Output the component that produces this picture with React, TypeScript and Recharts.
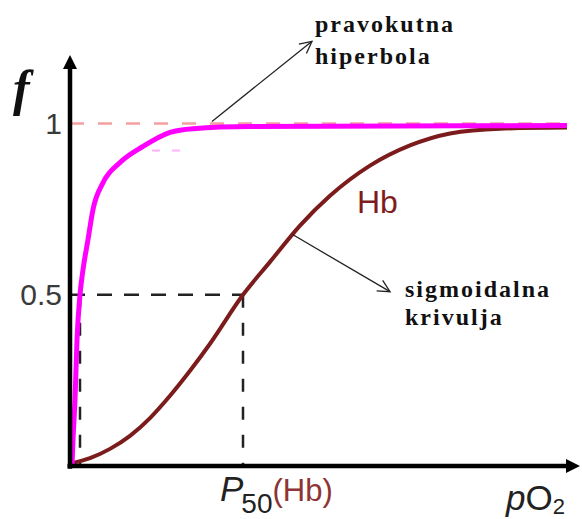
import React from "react";
import { LineChart, Line, XAxis, YAxis, ReferenceLine, ReferenceDot } from "recharts";

// pravokutna hiperbola (magenta curve)
const hyperX = [0.4, 0.6, 1, 1.4, 2, 2.6, 3.6, 4.6, 6.6, 10, 14.6, 20, 24.6, 36, 99.4];
const hyperF = [0, 0.076, 0.193, 0.368, 0.5, 0.573, 0.661, 0.749, 0.827, 0.886, 0.933, 0.974, 0.985, 0.991, 0.994];

// sigmoidalna krivulja (Hb)
const hbX = [0.6, 4, 8, 12, 16, 20, 24, 28, 34.6, 40, 46, 52, 60, 68, 76, 86, 99.4];
const hbF = [0.009, 0.023, 0.05, 0.088, 0.14, 0.205, 0.278, 0.357, 0.5, 0.596, 0.702, 0.789, 0.877, 0.936, 0.971, 0.985, 0.988];

const yTicks = [0.5, 1];
const p50Hb = 34.6;
const p50Hyper = 2;

const hyperData = hyperX.map((x, i) => ({ x, f: hyperF[i] }));
const hbData = hbX.map((x, i) => ({ x, f: hbF[i] }));

const SANS = "'Liberation Sans', Arial, sans-serif";
const SERIF = "'Liberation Serif', 'Times New Roman', serif";

// line with an arrow head at (x2, y2); filled for the axes, open for the notes
const arrowShape =
  (stroke: string, width: number, head: number, open = false) =>
  (p: any) => {
    const { x1, y1, x2, y2 } = p;
    const a = Math.atan2(y2 - y1, x2 - x1);
    const cos = Math.cos(a);
    const sin = Math.sin(a);
    const half = head * 0.5;
    const bx = x2 - head * cos;
    const by = y2 - head * sin;
    const lx = bx - half * sin;
    const ly = by + half * cos;
    const rx = bx + half * sin;
    const ry = by - half * cos;
    if (open) {
      return (
        <g>
          <line x1={x1} y1={y1} x2={x2} y2={y2} stroke={stroke} strokeWidth={width} />
          <polyline
            points={`${lx},${ly} ${x2},${y2} ${rx},${ry}`}
            fill="none"
            stroke={stroke}
            strokeWidth={width}
          />
        </g>
      );
    }
    return (
      <g>
        <line x1={x1} y1={y1} x2={bx + cos} y2={by + sin} stroke={stroke} strokeWidth={width} />
        <polygon points={`${lx},${ly} ${x2},${y2} ${rx},${ry}`} fill={stroke} />
      </g>
    );
  };

const textShape = (content: React.ReactNode, props: React.SVGProps<SVGTextElement>) => (p: any) =>
  (
    <text x={p.cx} y={p.cy} {...props}>
      {content}
    </text>
  );

const P50Tick = (p: any) => (
  <text x={p.x - 23} y={p.y + 27} fontFamily={SANS} fill="#222">
    <tspan fontStyle="italic" fontSize={35}>
      P
    </tspan>
    <tspan fontSize={28} dy={12} dx={-2}>
      50
    </tspan>
    <tspan fontSize={31} dy={-12} fill="#8e3434">
      (Hb)
    </tspan>
  </text>
);

const noteStyle = {
  fontFamily: SERIF,
  fontWeight: "bold",
  fontSize: 24,
  letterSpacing: 2,
  fill: "#111",
};

export default function App() {
  return (
    <div style={{ position: "absolute", left: 0, top: 0, width: 582, height: 519, background: "#fff" }}>
      <LineChart width={582} height={519} margin={{ top: 55, right: 2, bottom: 0, left: 0 }}>
        <XAxis
          type="number"
          dataKey="x"
          domain={[0, 102]}
          ticks={[p50Hb]}
          tick={<P50Tick />}
          axisLine={false}
          tickLine={false}
          height={53}
          allowDataOverflow
        />
        <YAxis
          type="number"
          domain={[0, 1.2]}
          ticks={yTicks}
          tickFormatter={(v: number) => String(v)}
          tick={{ fill: "#3a3a3a", fontSize: 30, fontFamily: SANS }}
          axisLine={false}
          tickLine={false}
          width={70}
          allowDataOverflow
        />

        {/* asymptote f = 1 */}
        <ReferenceLine
          segment={[{ x: 0, y: 1 }, { x: 99.4, y: 1 }]}
          stroke="#f5a0a0"
          strokeWidth={2.5}
          strokeDasharray="14 14"
          ifOverflow="visible"
        />
        {/* faint magenta trace under the plateau */}
        <ReferenceLine
          segment={[{ x: 16.4, y: 0.921 }, { x: 23, y: 0.921 }]}
          stroke="#ffb0ff"
          strokeWidth={2}
          strokeDasharray="8 12"
          ifOverflow="visible"
        />

        {/* P50 guide lines */}
        <ReferenceLine
          segment={[{ x: 0, y: 0.5 }, { x: p50Hb, y: 0.5 }]}
          stroke="#222"
          strokeWidth={2.5}
          strokeDasharray="15 12"
          ifOverflow="visible"
        />
        <ReferenceLine
          segment={[{ x: p50Hb, y: 0.5 }, { x: p50Hb, y: 0 }]}
          stroke="#222"
          strokeWidth={2.5}
          strokeDasharray="13 15"
          ifOverflow="visible"
        />
        <ReferenceLine
          segment={[{ x: p50Hyper, y: 0.5 }, { x: p50Hyper, y: 0 }]}
          stroke="#222"
          strokeWidth={2.5}
          strokeDasharray="13 15"
          ifOverflow="visible"
        />

        <Line
          data={hbData}
          dataKey="f"
          type="monotone"
          stroke="#7b1b1b"
          strokeWidth={4}
          dot={false}
          activeDot={false}
          isAnimationActive={false}
        />
        <Line
          data={hyperData}
          dataKey="f"
          type="monotone"
          stroke="#ff00ff"
          strokeWidth={5}
          dot={false}
          activeDot={false}
          isAnimationActive={false}
        />

        {/* axes with arrow heads */}
        <ReferenceLine
          segment={[{ x: 0, y: -0.008 }, { x: 0, y: 1.2 }]}
          ifOverflow="visible"
          shape={arrowShape("#000", 4.5, 14)}
        />
        <ReferenceLine
          segment={[{ x: -0.5, y: 0 }, { x: 102, y: 0 }]}
          ifOverflow="visible"
          shape={arrowShape("#000", 4.5, 14)}
        />

        {/* annotation arrows */}
        <ReferenceLine
          segment={[{ x: 28.4, y: 1.006 }, { x: 48.4, y: 1.24 }]}
          ifOverflow="visible"
          shape={arrowShape("#222", 1.3, 12, true)}
        />
        <ReferenceLine
          segment={[{ x: 44.6, y: 0.675 }, { x: 64, y: 0.509 }]}
          ifOverflow="visible"
          shape={arrowShape("#222", 1.3, 12, true)}
        />

        {/* texts */}
        <ReferenceDot
          x={-11.4}
          y={1.055}
          ifOverflow="visible"
          shape={textShape("f", {
            fontFamily: SERIF,
            fontStyle: "italic",
            fontWeight: "bold",
            fontSize: 50,
            fill: "#111",
          })}
        />
        <ReferenceDot x={49} y={1.266} ifOverflow="visible" shape={textShape("pravokutna", noteStyle)} />
        <ReferenceDot x={49} y={1.175} ifOverflow="visible" shape={textShape("hiperbola", noteStyle)} />
        <ReferenceDot
          x={57.4}
          y={0.74}
          ifOverflow="visible"
          shape={textShape("Hb", {
            fontFamily: SANS,
            fontSize: 32,
            fill: "#7d1d1d",
          })}
        />
        <ReferenceDot x={67} y={0.494} ifOverflow="visible" shape={textShape("sigmoidalna", noteStyle)} />
        <ReferenceDot x={67} y={0.412} ifOverflow="visible" shape={textShape("krivulja", noteStyle)} />
        <ReferenceDot
          x={87.2}
          y={-0.128}
          ifOverflow="visible"
          shape={textShape(
            <>
              <tspan fontStyle="italic">p</tspan>
              <tspan>O</tspan>
              <tspan fontSize={22} dy={4}>
                2
              </tspan>
            </>,
            { fontFamily: SANS, fontSize: 35, fill: "#222" }
          )}
        />
      </LineChart>
    </div>
  );
}
